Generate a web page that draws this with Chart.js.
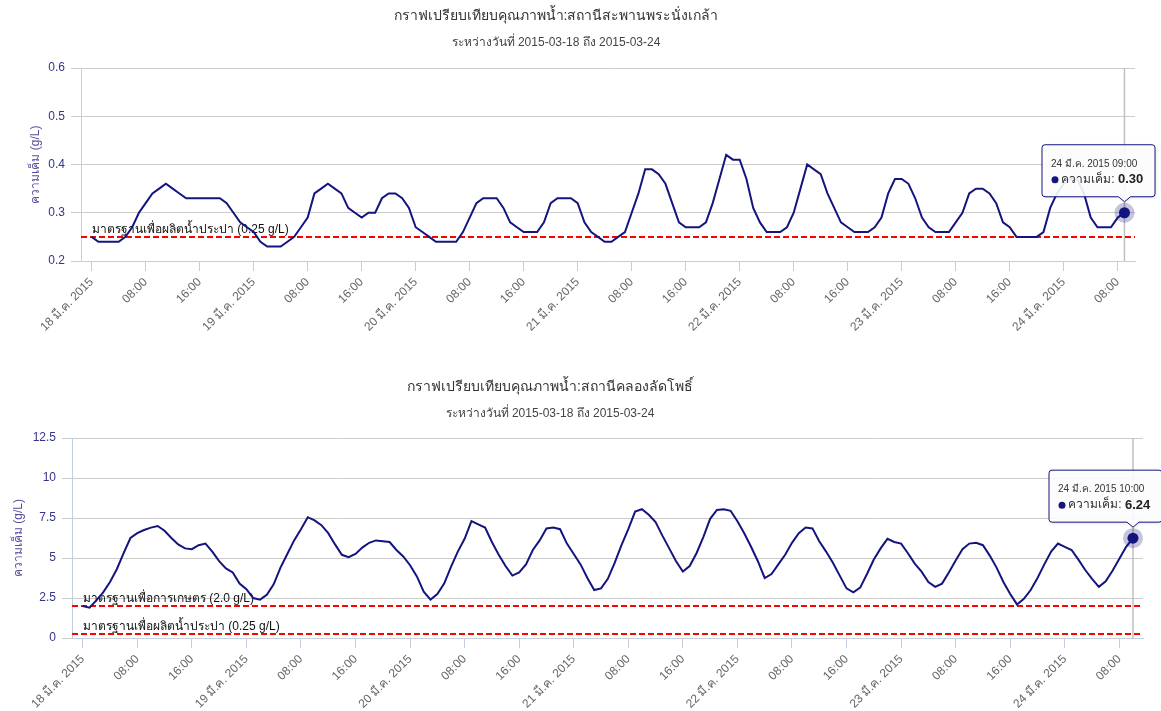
<!DOCTYPE html>
<html><head><meta charset="utf-8">
<script src="https://cdn.jsdelivr.net/npm/chart.js@4.4.1/dist/chart.umd.min.js"></script>
<style>
html,body{margin:0;padding:0;background:#fff;}
#wrap{position:relative;width:1161px;height:711px;overflow:hidden;background:#fff;}
canvas{position:absolute;left:0;}
#c1{top:0;}
#c2{top:350px;}
</style></head><body>
<div id="wrap"><canvas id="c1" width="1161" height="350"></canvas><canvas id="c2" width="1161" height="361"></canvas></div>
<script>
const FONT = "Tahoma, 'Liberation Sans', 'Noto Sans', 'DejaVu Sans', sans-serif";

// ---- text ----
const topTitle = 'กราฟเปรียบเทียบคุณภาพน้ำ:สถานีสะพานพระนั่งเกล้า';
const bottomTitle = 'กราฟเปรียบเทียบคุณภาพน้ำ:สถานีคลองลัดโพธิ์';
const subtitleText = 'ระหว่างวันที่ 2015-03-18 ถึง 2015-03-24';
const seriesName = 'ความเค็ม';
const yAxisTitle = 'ความเค็ม (g/L)';

// ---- x axis tick labels (hourly data starting 18 มี.ค. 2015 00:00) ----
const dayLabels = ['18 มี.ค. 2015','19 มี.ค. 2015','20 มี.ค. 2015','21 มี.ค. 2015','22 มี.ค. 2015','23 มี.ค. 2015','24 มี.ค. 2015'];
const hourLabels = ['08:00','16:00'];

// ---- series values (hourly, g/L) ----
const topSalinity = [
0.25,0.24,0.24,0.24,0.24,0.25,0.27,0.30,0.32,0.34,
0.35,0.36,0.35,0.34,0.33,0.33,0.33,0.33,0.33,0.33,
0.32,0.30,0.28,0.27,0.26,0.24,0.23,0.23,0.23,0.24,
0.25,0.27,0.29,0.34,0.35,0.36,0.35,0.34,0.31,0.30,
0.29,0.30,0.30,0.33,0.34,0.34,0.33,0.31,0.27,0.26,
0.25,0.24,0.24,0.24,0.24,0.26,0.29,0.32,0.33,0.33,
0.33,0.31,0.28,0.27,0.26,0.26,0.26,0.28,0.32,0.33,
0.33,0.33,0.32,0.28,0.26,0.25,0.24,0.24,0.25,0.26,
0.30,0.34,0.39,0.39,0.38,0.36,0.32,0.28,0.27,0.27,
0.27,0.28,0.32,0.37,0.42,0.41,0.41,0.37,0.31,0.28,
0.26,0.26,0.26,0.27,0.30,0.35,0.40,0.39,0.38,0.34,
0.31,0.28,0.27,0.26,0.26,0.26,0.27,0.29,0.34,0.37,
0.37,0.36,0.33,0.29,0.27,0.26,0.26,0.26,0.28,0.30,
0.34,0.35,0.35,0.34,0.32,0.28,0.27,0.25,0.25,0.25,
0.25,0.26,0.31,0.34,0.36,0.37,0.37,0.34,0.29,0.27,
0.27,0.27,0.29,0.30
];
const bottomSalinity = [
2.0,1.9,2.35,2.85,3.5,4.3,5.3,6.25,6.55,6.75,
6.9,7.0,6.7,6.25,5.85,5.6,5.55,5.8,5.9,5.4,
4.8,4.35,4.1,3.4,3.05,2.5,2.4,2.7,3.35,4.4,
5.25,6.1,6.8,7.55,7.35,7.05,6.55,5.85,5.2,5.05,
5.25,5.65,5.95,6.1,6.05,6.0,5.5,5.1,4.55,3.85,
2.9,2.4,2.75,3.4,4.45,5.4,6.2,7.3,7.1,6.9,
6.0,5.2,4.5,3.9,4.1,4.6,5.5,6.1,6.85,6.9,
6.8,5.9,5.25,4.6,3.75,3.0,3.1,3.7,4.7,5.8,
6.8,7.9,8.05,7.7,7.25,6.4,5.6,4.8,4.15,4.5,
5.3,6.3,7.45,8.0,8.05,7.95,7.3,6.55,5.7,4.8,
3.75,4.0,4.6,5.2,5.95,6.55,6.9,6.85,6.05,5.4,
4.7,3.9,3.1,2.85,3.15,4.0,4.9,5.6,6.2,6.0,
5.9,5.3,4.65,4.15,3.5,3.2,3.4,4.1,4.85,5.55,
5.9,5.95,5.8,5.15,4.4,3.5,2.75,2.1,2.45,3.0,
3.75,4.6,5.4,5.9,5.7,5.5,4.9,4.25,3.7,3.2,
3.55,4.2,4.95,5.7,6.24
];

// ---- standard (plot) lines ----
const topStandards = [0.25];
const topStandardLabels = ['มาตรฐานเพื่อผลิตน้ำประปา (0.25 g/L)'];
const bottomStandards = [2.0, 0.25];
const bottomStandardLabels = ['มาตรฐานเพื่อการเกษตร (2.0 g/L)', 'มาตรฐานเพื่อผลิตน้ำประปา (0.25 g/L)'];

const LINE = '#14147f';

function pad2(n){ return (n < 10 ? '0' : '') + n; }
function xTickLabel(v){
  if (v % 24 === 0) return dayLabels[v / 24];
  return hourLabels[(v % 24) / 8 - 1];
}
function headerFor(i){ return dayLabels[Math.floor(i / 24)] + ' ' + pad2(i % 24) + ':00'; }

const hcPlugin = {
  id: 'hc',
  beforeDatasetsDraw(chart, args, o) {
    const {ctx, chartArea: a, scales: {x, y}} = chart;
    const meta = chart.getDatasetMeta(0);
    const pt = meta.data[o.hoverIndex];
    // crosshair
    ctx.save();
    ctx.strokeStyle = '#C0C0C0'; ctx.lineWidth = 1.5;
    ctx.beginPath(); ctx.moveTo(pt.x, a.top); ctx.lineTo(pt.x, a.bottom); ctx.stroke();
    ctx.restore();
    // standard lines
    o.lines.forEach((v, i) => {
      const py = y.getPixelForValue(v);
      ctx.save();
      ctx.strokeStyle = '#FF0000'; ctx.lineWidth = 2; ctx.setLineDash([6, 3]);
      ctx.beginPath(); ctx.moveTo(a.left, py); ctx.lineTo(a.right, py); ctx.stroke();
      ctx.setLineDash([]);
      ctx.fillStyle = '#111'; ctx.font = '12px ' + FONT; ctx.textAlign = 'left'; ctx.textBaseline = 'alphabetic';
      ctx.fillText(o.lineLabels[i], a.left + 11, py - 4);
      ctx.restore();
    });
  },
  afterDatasetsDraw(chart, args, o) {
    const {ctx} = chart;
    const pt = chart.getDatasetMeta(0).data[o.hoverIndex];
    ctx.save();
    ctx.fillStyle = 'rgba(20,20,127,0.25)';
    ctx.beginPath(); ctx.arc(pt.x, pt.y, 10, 0, Math.PI * 2); ctx.fill();
    ctx.fillStyle = LINE;
    ctx.beginPath(); ctx.arc(pt.x, pt.y, 5.5, 0, Math.PI * 2); ctx.fill();
    ctx.restore();
  },
  afterDraw(chart, args, o) {
    const {ctx} = chart;
    // titles
    ctx.save();
    ctx.textAlign = 'center'; ctx.textBaseline = 'middle';
    ctx.fillStyle = '#333333'; ctx.font = '14px ' + FONT;
    ctx.fillText(o.title, o.titleX, o.titleY);
    ctx.fillStyle = '#444444'; ctx.font = '12px ' + FONT;
    ctx.fillText(o.subtitle, o.titleX, o.subtitleY);
    ctx.restore();
    // tooltip
    const i = o.hoverIndex;
    const pt = chart.getDatasetMeta(0).data[i];
    const val = chart.data.datasets[0].data[i].y;
    const head = headerFor(i);
    const valStr = val.toFixed(2);
    ctx.save();
    ctx.font = '10px ' + FONT; const wHead = ctx.measureText(head).width;
    ctx.font = '12px ' + FONT; const nameStr = ' ' + seriesName + ': '; const wName = ctx.measureText(nameStr).width;
    ctx.font = 'bold 13px ' + FONT; const wVal = ctx.measureText(valStr).width;
    const w2 = 10 + wName + wVal;
    const bw = Math.round(Math.max(wHead, w2) + 18);
    const bh = 52;
    const right = o.tipRight;
    const left = right - bw;
    const tipY = pt.y - 11;
    const bottom = tipY - 5;
    const top = bottom - bh;
    const r = 3;
    const px = pt.x;
    ctx.beginPath();
    ctx.moveTo(left + r, top);
    ctx.lineTo(right - r, top); ctx.arcTo(right, top, right, top + r, r);
    ctx.lineTo(right, bottom - r); ctx.arcTo(right, bottom, right - r, bottom, r);
    ctx.lineTo(px + 6, bottom); ctx.lineTo(px, tipY); ctx.lineTo(px - 6, bottom);
    ctx.lineTo(left + r, bottom); ctx.arcTo(left, bottom, left, bottom - r, r);
    ctx.lineTo(left, top + r); ctx.arcTo(left, top, left + r, top, r);
    ctx.closePath();
    ctx.shadowColor = 'rgba(0,0,0,0.15)'; ctx.shadowOffsetX = 1; ctx.shadowOffsetY = 1; ctx.shadowBlur = 3;
    ctx.fillStyle = 'rgba(255,255,255,0.9)'; ctx.fill();
    ctx.shadowColor = 'transparent';
    ctx.strokeStyle = LINE; ctx.lineWidth = 1; ctx.stroke();
    ctx.textAlign = 'left'; ctx.textBaseline = 'middle';
    ctx.fillStyle = '#333'; ctx.font = '10px ' + FONT;
    ctx.fillText(head, left + 9, top + 19);
    const ly = top + 35;
    ctx.fillStyle = LINE; ctx.beginPath(); ctx.arc(left + 13, ly, 3.5, 0, Math.PI * 2); ctx.fill();
    ctx.fillStyle = '#333'; ctx.font = '12px ' + FONT;
    ctx.fillText(nameStr, left + 16, ly);
    ctx.font = 'bold 13px ' + FONT; ctx.fillStyle = '#222';
    ctx.fillText(valStr, left + 16 + wName, ly);
    ctx.restore();
  }
};

function makeChart(el, p) {
  const data = p.values.map((v, i) => ({x: i, y: v}));
  return new Chart(el, {
    type: 'line',
    data: { datasets: [{ label: seriesName, data, borderColor: LINE, borderWidth: 2, pointRadius: 0, pointHoverRadius: 0, tension: 0, fill: false }] },
    options: {
      responsive: false, animation: false, devicePixelRatio: 1, events: [],
      layout: { padding: { top: p.areaTop, right: p.padRight, left: 0, bottom: 0 } },
      plugins: {
        legend: { display: false }, tooltip: { enabled: false }, title: { display: false },
        hc: { lines: p.lines, lineLabels: p.lineLabels, hoverIndex: p.values.length - 1,
              title: p.title, subtitle: subtitleText, titleX: p.titleX, titleY: p.titleY, subtitleY: p.subtitleY, tipRight: p.tipRight }
      },
      scales: {
        x: {
          type: 'linear', min: p.xMin, max: p.xMax,
          afterFit: s => { s.height = p.xAxisHeight; },
          grid: { drawOnChartArea: false, drawTicks: true, tickLength: 10, color: '#C0D0E0', lineWidth: 1 },
          border: { color: '#C0D0E0', width: 1 },
          ticks: { stepSize: 8, includeBounds: false, autoSkip: false, minRotation: 45, maxRotation: 45, padding: 4,
                   color: '#666666', font: { family: FONT, size: 12 }, callback: v => xTickLabel(v) }
        },
        y: {
          min: p.yMin, max: p.yMax,
          afterFit: s => { s.width = p.axisWidth; },
          grid: { color: '#CCCCCC', tickLength: 10, lineWidth: 1 },
          border: { color: '#C0D0E0', width: 1 },
          ticks: { stepSize: p.yStep, padding: 6, color: '#34348c', font: { family: FONT, size: 12 },
                   callback: v => p.yFmt(v) },
          title: { display: true, text: yAxisTitle, color: '#5c4b9b', font: { family: FONT, size: 12 }, padding: { top: p.titlePad, bottom: 0 } }
        }
      }
    },
    plugins: [hcPlugin]
  });
}

makeChart(document.getElementById('c1'), {
  values: topSalinity, lines: topStandards, lineLabels: topStandardLabels,
  title: topTitle, titleX: 556, titleY: 16, subtitleY: 43, tipRight: 1155,
  areaTop: 68, padRight: 26, xAxisHeight: 89, axisWidth: 81,
  xMin: -1.58, xMax: 154.56, yMin: 0.2, yMax: 0.6, yStep: 0.1,
  yFmt: v => v.toFixed(1), titlePad: 28
});
makeChart(document.getElementById('c2'), {
  values: bottomSalinity, lines: bottomStandards, lineLabels: bottomStandardLabels,
  title: bottomTitle, titleX: 550, titleY: 37, subtitleY: 64, tipRight: 1162,
  areaTop: 88, padRight: 18, xAxisHeight: 73, axisWidth: 72,
  xMin: -1.57, xMax: 155.47, yMin: 0, yMax: 12.5, yStep: 2.5,
  yFmt: v => (Number.isInteger(v) ? String(v) : v.toFixed(1)), titlePad: 11
});
</script>
</body></html>
